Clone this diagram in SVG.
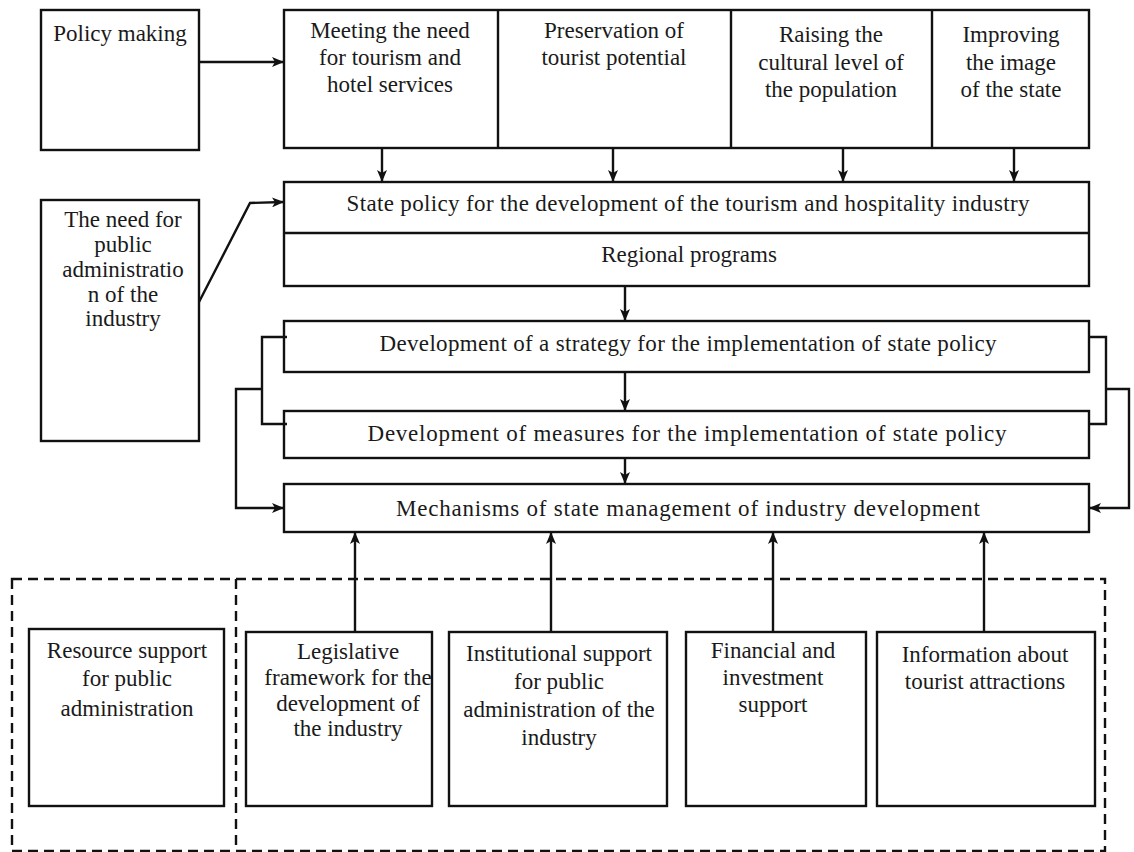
<svg xmlns="http://www.w3.org/2000/svg" width="1134" height="852" viewBox="0 0 1134 852">
<defs>
<marker id="ah" viewBox="0 0 12 10" refX="11" refY="5" markerWidth="12" markerHeight="10" markerUnits="userSpaceOnUse" orient="auto">
<path d="M0,0 L12,5 L0,10 L3,5 z" fill="#111"/>
</marker>
<style>
.box{fill:#fff;stroke:#111;stroke-width:2.4}
.t{font-family:'Liberation Serif',serif;font-size:23px;fill:#1a1a1a;text-anchor:middle}
.c{fill:none;stroke:#111;stroke-width:2.4}
.d{fill:none;stroke:#111;stroke-width:2.4;stroke-dasharray:10 6}
</style>
</defs>
<rect width="1134" height="852" fill="#fff"/>
<g id="dashed-groups">
<rect class="d" x="12" y="579" width="1093" height="272"/>
<line class="d" x1="236" y1="579" x2="236" y2="851"/>
</g>
<g id="policy-making">
<rect class="box" x="41" y="10" width="158" height="140"/>
<text class="t" x="120" y="41">Policy making</text>
</g>
<g id="goals">
<rect class="box" x="284" y="10" width="805" height="138"/>
<line class="c" x1="498" y1="10" x2="498" y2="148"/>
<line class="c" x1="731" y1="10" x2="731" y2="148"/>
<line class="c" x1="932" y1="10" x2="932" y2="148"/>
</g>
<g id="goal-meeting">
<text class="t" x="390" y="38">Meeting the need</text>
<text class="t" x="390" y="65">for tourism and</text>
<text class="t" x="390" y="92">hotel services</text>
</g>
<g id="goal-preservation">
<text class="t" x="614" y="38">Preservation of</text>
<text class="t" x="614" y="65">tourist potential</text>
</g>
<g id="goal-raising">
<text class="t" x="831" y="42">Raising the</text>
<text class="t" x="831" y="70">cultural level of</text>
<text class="t" x="831" y="97">the population</text>
</g>
<g id="goal-improving">
<text class="t" x="1011" y="42">Improving</text>
<text class="t" x="1011" y="70">the image</text>
<text class="t" x="1011" y="97">of the state</text>
</g>
<g id="need">
<rect class="box" x="41" y="200" width="158" height="241"/>
<text class="t" x="123" y="227">The need for</text>
<text class="t" x="123" y="252">public</text>
<text class="t" x="123" y="277">administratio</text>
<text class="t" x="123" y="302">n of the</text>
<text class="t" x="123" y="326">industry</text>
</g>
<g id="state-policy">
<rect class="box" x="284" y="182" width="805" height="104"/>
<line class="c" x1="284" y1="233" x2="1089" y2="233"/>
<text class="t" x="688" y="211" textLength="683" lengthAdjust="spacing">State policy for the development of the tourism and hospitality industry</text>
<text class="t" x="689" y="262">Regional programs</text>
</g>
<g id="strategy">
<rect class="box" x="284" y="321" width="805" height="51"/>
<text class="t" x="688" y="351" textLength="617" lengthAdjust="spacing">Development of a strategy for the implementation of state policy</text>
</g>
<g id="measures">
<rect class="box" x="284" y="411" width="805" height="47"/>
<text class="t" x="687" y="441" textLength="639" lengthAdjust="spacing">Development of measures for the implementation of state policy</text>
</g>
<g id="mechanisms">
<rect class="box" x="284" y="484" width="805" height="48"/>
<text class="t" x="688" y="516" textLength="584" lengthAdjust="spacing">Mechanisms of state management of industry development</text>
</g>
<g id="resource">
<rect class="box" x="29" y="629" width="195" height="177"/>
<text class="t" x="127" y="658">Resource support</text>
<text class="t" x="127" y="686">for public</text>
<text class="t" x="127" y="716">administration</text>
</g>
<g id="legislative">
<rect class="box" x="246" y="632" width="186" height="174"/>
<text class="t" x="348" y="659">Legislative</text>
<text class="t" x="348" y="685">framework for the</text>
<text class="t" x="348" y="711">development of</text>
<text class="t" x="348" y="736">the industry</text>
</g>
<g id="institutional">
<rect class="box" x="449" y="632" width="218" height="174"/>
<text class="t" x="559" y="661">Institutional support</text>
<text class="t" x="559" y="689">for public</text>
<text class="t" x="559" y="717">administration of the</text>
<text class="t" x="559" y="745">industry</text>
</g>
<g id="financial">
<rect class="box" x="686" y="632" width="180" height="174"/>
<text class="t" x="773" y="658">Financial and</text>
<text class="t" x="773" y="685">investment</text>
<text class="t" x="773" y="712">support</text>
</g>
<g id="information">
<rect class="box" x="877" y="632" width="218" height="174"/>
<text class="t" x="985" y="662">Information about</text>
<text class="t" x="985" y="689">tourist attractions</text>
</g>
<g id="connectors">
<line class="c" x1="199" y1="62" x2="283" y2="62" marker-end="url(#ah)"/>
<line class="c" x1="382" y1="148" x2="382" y2="181" marker-end="url(#ah)"/>
<line class="c" x1="613" y1="148" x2="613" y2="181" marker-end="url(#ah)"/>
<line class="c" x1="843" y1="148" x2="843" y2="181" marker-end="url(#ah)"/>
<line class="c" x1="1014" y1="148" x2="1014" y2="181" marker-end="url(#ah)"/>
<polyline class="c" points="199,302 250,203 283,202" marker-end="url(#ah)"/>
<line class="c" x1="625" y1="286" x2="625" y2="320" marker-end="url(#ah)"/>
<line class="c" x1="625" y1="372" x2="625" y2="410" marker-end="url(#ah)"/>
<line class="c" x1="625" y1="458" x2="625" y2="483" marker-end="url(#ah)"/>
<polyline class="c" points="287,337 262,337 262,424 287,424"/>
<polyline class="c" points="262,389 236,389 236,508 283,508" marker-end="url(#ah)"/>
<polyline class="c" points="1089,337 1106,337 1106,424 1089,424"/>
<polyline class="c" points="1106,389 1129,389 1129,508 1090,508" marker-end="url(#ah)"/>
<line class="c" x1="355" y1="632" x2="355" y2="533" marker-end="url(#ah)"/>
<line class="c" x1="551" y1="632" x2="551" y2="533" marker-end="url(#ah)"/>
<line class="c" x1="773" y1="632" x2="773" y2="533" marker-end="url(#ah)"/>
<line class="c" x1="984" y1="632" x2="984" y2="533" marker-end="url(#ah)"/>
</g>
</svg>
